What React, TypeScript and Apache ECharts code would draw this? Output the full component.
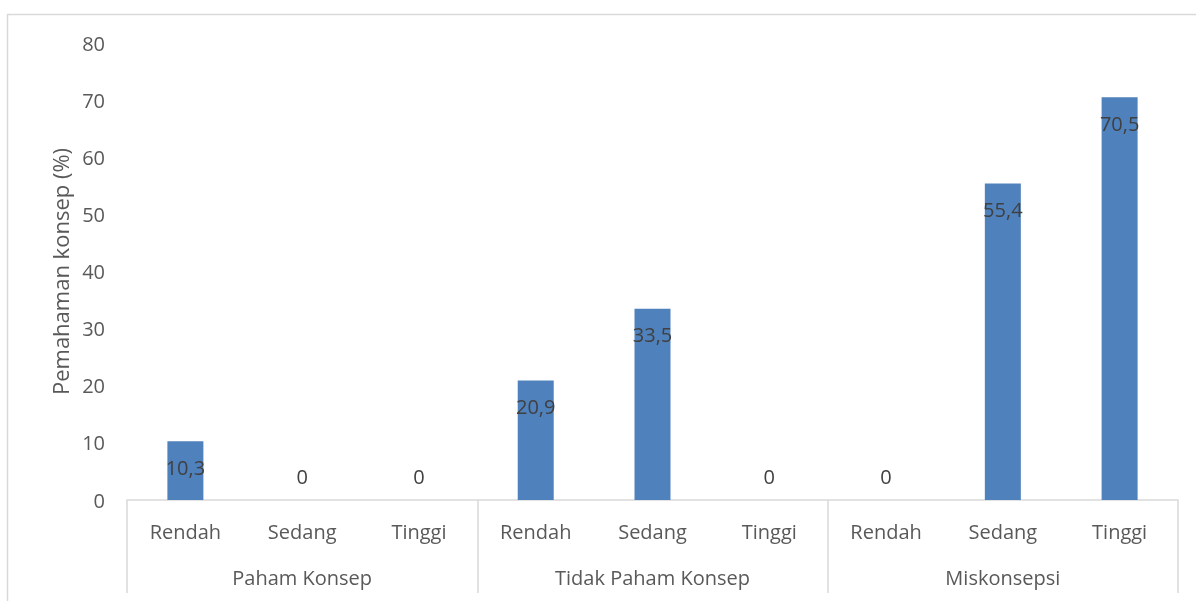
import React, { useEffect, useRef } from "react";
import * as echarts from "echarts";

const levels = ["Rendah", "Sedang", "Tinggi", "Rendah", "Sedang", "Tinggi", "Rendah", "Sedang", "Tinggi"];
const groups = ["Paham Konsep", "Tidak Paham Konsep", "Miskonsepsi"];
const values = [10.3, 0, 0, 20.9, 33.5, 0, 0, 55.4, 70.5];
const yTicks = { min: 0, max: 80, interval: 10 };
const yTitle = "Pemahaman konsep (%)";

const FONT = "Open Sans";

export default function App() {
  const ref = useRef<HTMLDivElement>(null);
  useEffect(() => {
    if (!ref.current) return;
    const chart = echarts.init(ref.current, null, { renderer: "svg" });
    const data = values.map((v) => ({
      value: v,
      label: v === 0 ? { position: "top", distance: 14 } : { position: "insideTop", distance: 16 },
    }));
    chart.setOption({
      animation: false,
      textStyle: { fontFamily: FONT },
      graphic: [
        {
          type: "rect",
          shape: { x: 7.5, y: 14.5, width: 1300, height: 800 },
          style: { fill: "none", stroke: "#d9d9d9", lineWidth: 1.5 },
          silent: true,
        },
      ],
      grid: { left: 127, right: 18, top: 43, bottom: 101, containLabel: false },
      xAxis: [
        {
          type: "category",
          data: levels,
          position: "bottom",
          axisLine: { show: true, lineStyle: { color: "#d9d9d9", width: 1.5 } },
          axisTick: { show: false },
          axisLabel: { color: "#595959", fontSize: 20, margin: 21, fontFamily: FONT },
        },
        {
          type: "category",
          data: groups,
          position: "bottom",
          offset: 0,
          axisLine: { show: false },
          axisTick: { show: true, length: 93, lineStyle: { color: "#d9d9d9", width: 1.5 } },
          axisLabel: { color: "#595959", fontSize: 20, margin: 67, fontFamily: FONT },
        },
      ],
      yAxis: {
        type: "value",
        min: yTicks.min,
        max: yTicks.max,
        interval: yTicks.interval,
        name: yTitle,
        nameLocation: "middle",
        nameGap: 56,
        nameRotate: 90,
        nameTextStyle: { color: "#595959", fontSize: 22, fontFamily: FONT },
        axisLine: { show: false },
        axisTick: { show: false },
        splitLine: { show: false },
        axisLabel: { color: "#595959", fontSize: 20, margin: 22, fontFamily: FONT },
      },
      series: [
        {
          type: "bar",
          xAxisIndex: 0,
          data,
          barWidth: 36,
          itemStyle: { color: "#4f81bd" },
          label: {
            show: true,
            color: "#404040",
            fontSize: 20,
            fontFamily: FONT,
            formatter: (p: any) => String(p.value).replace(".", ","),
          },
        },
      ],
    });
    return () => chart.dispose();
  }, []);
  return <div ref={ref} style={{ position: "fixed", left: 0, top: 0, width: 1196, height: 601 }} />;
}
